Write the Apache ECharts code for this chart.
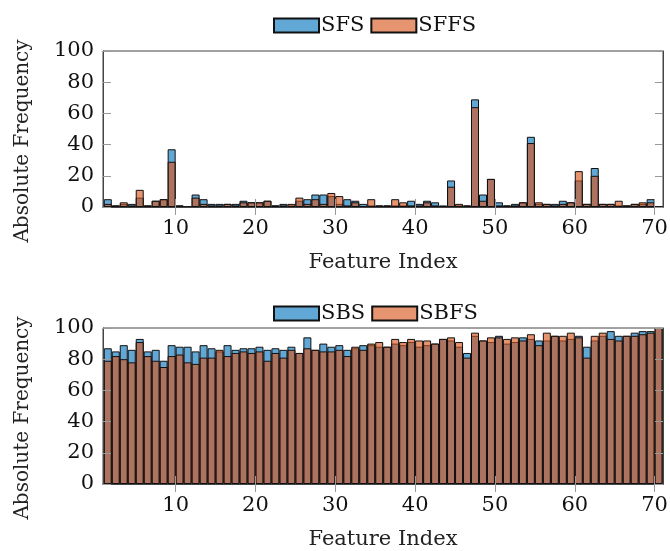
<!DOCTYPE html>
<html>
<head>
<meta charset="utf-8">
<script src="https://cdn.jsdelivr.net/npm/echarts@6/dist/echarts.min.js"></script>
<style>
  html, body { margin: 0; padding: 0; background: #fff; }
  #chart { width: 670px; height: 551px; }
</style>
</head>
<body>
<div id="chart"></div>
<script>
// feature indices 1..70, bar k spans [k, k+1]
const features = Array.from({ length: 70 }, (_, i) => i + 1)
const xTicks = [10, 20, 30, 40, 50, 60, 70]

const sfs = [5, 1, 2, 2, 6, 1, 4, 5, 37, 1,
  0, 8, 5, 2, 2, 2, 2, 4, 3, 3,
  4, 1, 2, 1, 4, 5, 8, 8, 7, 2,
  5, 4, 2, 1, 1, 1, 1, 1, 4, 2,
  4, 3, 1, 17, 1, 1, 69, 8, 18, 3,
  1, 2, 3, 45, 2, 2, 2, 4, 3, 17,
  2, 25, 2, 2, 1, 1, 2, 2, 5, 0]
const sffs = [2, 1, 3, 1, 11, 1, 4, 5, 29, 1,
  0, 6, 2, 1, 1, 2, 1, 3, 3, 3,
  4, 1, 1, 2, 6, 2, 5, 2, 9, 7,
  1, 3, 0, 5, 1, 1, 5, 3, 1, 1,
  3, 1, 0, 13, 2, 1, 64, 4, 18, 1,
  1, 1, 3, 41, 3, 2, 1, 2, 3, 23,
  2, 20, 2, 2, 4, 1, 2, 3, 3, 0]

const sbs = [87, 85, 89, 86, 93, 85, 86, 79, 89, 88,
  88, 85, 89, 87, 85, 89, 86, 87, 87, 88,
  86, 87, 86, 88, 84, 94, 86, 90, 88, 89,
  86, 87, 89, 89, 88, 88, 90, 89, 91, 88,
  89, 90, 93, 92, 88, 84, 95, 92, 91, 95,
  90, 91, 94, 93, 92, 92, 95, 92, 93, 95,
  88, 92, 95, 98, 95, 95, 97, 98, 98, 100]
const sbfs = [79, 82, 80, 78, 91, 82, 79, 75, 82, 83,
  78, 77, 81, 81, 86, 82, 84, 85, 84, 85,
  79, 84, 81, 86, 84, 87, 86, 85, 85, 86,
  82, 88, 86, 90, 91, 88, 93, 91, 93, 92,
  92, 90, 93, 94, 91, 81, 97, 92, 94, 94,
  93, 94, 92, 96, 89, 97, 95, 95, 97, 94,
  81, 95, 97, 93, 92, 95, 95, 96, 97, 100]

const FONT = 'DejaVu Serif'
const FS = 21
const BLUE = 'rgba(0, 114, 189, 0.62)'
const ORANGE = 'rgba(216, 83, 25, 0.62)'

const chart = echarts.init(document.getElementById('chart'))

const toPoints = vals => features.map((f, i) => [f + 0.5, vals[i]])

function grid(top) {
  return {
    left: 103, right: 7, top: top, height: 156,
    outerBoundsMode: 'none',
    show: true, borderColor: '#444', borderWidth: 1, backgroundColor: 'transparent'
  }
}

function xAxes(gi) {
  return [
    {
      type: 'value', gridIndex: gi, min: 0.9, max: 71.05, z: 5,
      name: 'Feature Index', nameLocation: 'middle', nameGap: 45,
      nameTextStyle: { fontFamily: FONT, fontSize: FS, color: '#222' },
      axisLine: { show: true, lineStyle: { color: '#444' } },
      axisTick: { show: true, inside: true, length: 8, customValues: xTicks, lineStyle: { color: '#999' } },
      axisLabel: { customValues: xTicks, margin: 11, fontFamily: FONT, fontSize: FS, color: '#111' },
      splitLine: { show: false }
    },
    {
      type: 'value', gridIndex: gi, min: 0.9, max: 71.05, position: 'top', z: 5,
      axisLine: { show: true, lineStyle: { color: '#444' } },
      axisTick: { show: true, inside: true, length: 8, customValues: xTicks, lineStyle: { color: '#999' } },
      axisLabel: { show: false },
      splitLine: { show: false }
    }
  ]
}

function yAxes(gi) {
  return [
    {
      type: 'value', gridIndex: gi, min: 0, max: 100, interval: 20, z: 5,
      name: 'Absolute Frequency', nameLocation: 'middle', nameGap: 70,
      // the label sits a little below the middle of the axis
      nameTextStyle: { fontFamily: FONT, fontSize: 20, color: '#222', padding: [0, 24, 0, 0] },
      axisLine: { show: true, lineStyle: { color: '#444' } },
      axisTick: { show: true, inside: true, length: 8, lineStyle: { color: '#999' } },
      axisLabel: { margin: 9, fontFamily: FONT, fontSize: FS, color: '#111' },
      splitLine: { show: false }
    },
    {
      type: 'value', gridIndex: gi, min: 0, max: 100, interval: 20, position: 'right', z: 5,
      axisLine: { show: true, lineStyle: { color: '#444' } },
      axisTick: { show: true, inside: true, length: 8, lineStyle: { color: '#999' } },
      axisLabel: { show: false },
      splitLine: { show: false }
    }
  ]
}

function barSeries(name, vals, color, axisOffset) {
  return {
    name: name,
    type: 'bar',
    xAxisIndex: axisOffset,
    yAxisIndex: axisOffset,
    data: toPoints(vals),
    barWidth: 8,
    barGap: '-100%',
    itemStyle: { color: color, borderColor: '#111', borderWidth: 1 }
  }
}

function legend(names, top) {
  return {
    data: names, top: top, left: 268, icon: 'rect',
    itemWidth: 45, itemHeight: 14, itemGap: 6,
    textStyle: { fontFamily: FONT, fontSize: FS, color: '#111', padding: [0, 0, 0, -3] }
  }
}

const option = {
  animation: false,
  legend: [legend(['SFS', 'SFFS'], 10), legend(['SBS', 'SBFS'], 298)],
  grid: [grid(51), grid(328)],
  xAxis: [...xAxes(0), ...xAxes(1)],
  yAxis: [...yAxes(0), ...yAxes(1)],
  series: [
    barSeries('SFS', sfs, BLUE, 0),
    barSeries('SFFS', sffs, ORANGE, 0),
    barSeries('SBS', sbs, BLUE, 2),
    barSeries('SBFS', sbfs, ORANGE, 2)
  ]
}

chart.setOption(option)
</script>
</body>
</html>
